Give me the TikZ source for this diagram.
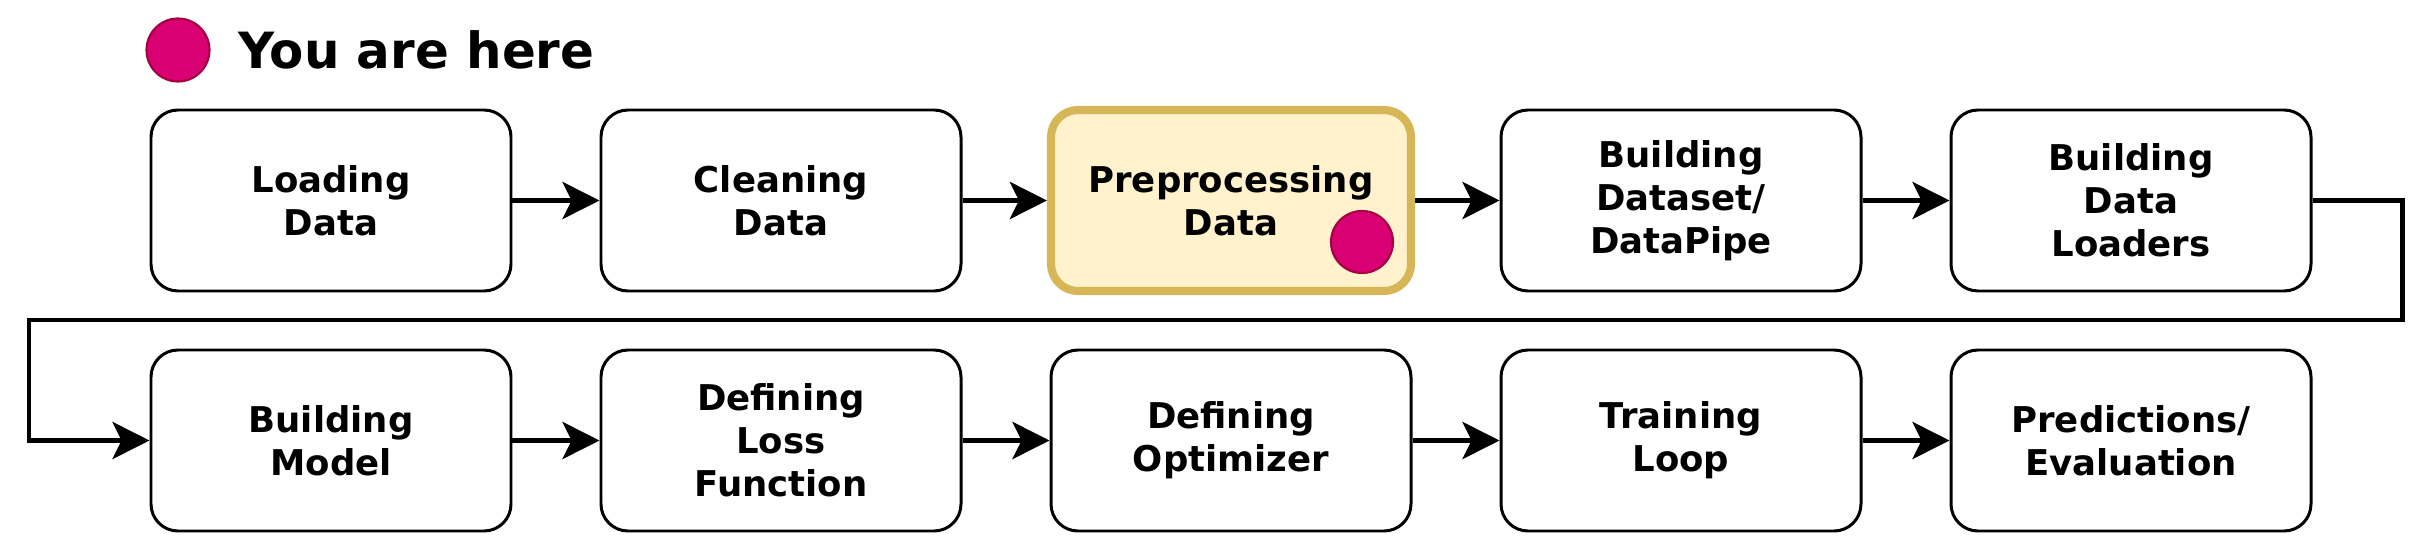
\documentclass[tikz,border=0pt]{standalone}
\usepackage{fontspec}
\setmainfont{DejaVu Sans}
\usetikzlibrary{positioning,arrows.meta}
\definecolor{herepink}{HTML}{D80073}
\definecolor{hereedge}{HTML}{A50040}
\definecolor{nowfill}{HTML}{FFF2CC}
\definecolor{nowedge}{HTML}{D6B656}

\begin{document}
\begin{tikzpicture}[
  stage/.style={rectangle,draw=black,fill=white,line width=0.85pt,rounded corners=0.27cm,
        minimum width=3.6cm,minimum height=1.81cm,align=center,
        font=\fontsize{10.1}{12.3}\selectfont\bfseries},
  current/.style={stage,draw=nowedge,fill=nowfill,line width=2.3pt},
  marker/.style={circle,draw=hereedge,fill=herepink,line width=0.6pt,minimum size=0.62cm,inner sep=0pt},
  arrow/.style={-{Stealth[length=0.37cm,width=0.37cm,inset=0.09cm]},black,line width=1.42pt}
]
\useasboundingbox (0,0) rectangle (24.3,5.48);
% legend
\node[marker,minimum size=0.63cm] (legdot) at (1.78,4.98) {};
\node[right=0.27cm of legdot,inner sep=0pt,font=\fontsize{14.2}{17}\selectfont\bfseries] (legtext) {You are here};
% first row
\node[stage] (load) at (3.31,3.475) {Loading\\Data};
\node[stage] (clean) at (7.81,3.475) {Cleaning\\Data};
\node[current] (prep) at (12.31,3.475) {Preprocessing\\Data};
\node[marker] (heredot) at (13.62,3.06) {};
\node[stage] (dataset) at (16.81,3.475) {Building\\Dataset/\\DataPipe};
\node[stage] (loaders) at (21.31,3.475) {Building\\Data\\Loaders};
% second row
\node[stage] (model) at (3.31,1.075) {Building\\Model};
\node[stage] (loss) at (7.81,1.075) {Defining\\Loss\\Function};
\node[stage] (optim) at (12.31,1.075) {Defining\\Optimizer};
\node[stage] (train) at (16.81,1.075) {Training\\Loop};
\node[stage] (pred) at (21.31,1.075) {Predictions/\\Evaluation};
\draw[arrow] (load) -- (clean);
\draw[arrow] (clean) -- (prep);
\draw[arrow] (prep) -- (dataset);
\draw[arrow] (dataset) -- (loaders);
\draw[arrow] (model) -- (loss);
\draw[arrow] (loss) -- (optim);
\draw[arrow] (optim) -- (train);
\draw[arrow] (train) -- (pred);
% wrap around to the second row
\coordinate (bendR) at (24.02,2.28);
\coordinate (bendL) at (0.29,2.28);
\draw[arrow] (loaders.east) -| (bendR) -- (bendL) |- (model.west);
\end{tikzpicture}
\end{document}
